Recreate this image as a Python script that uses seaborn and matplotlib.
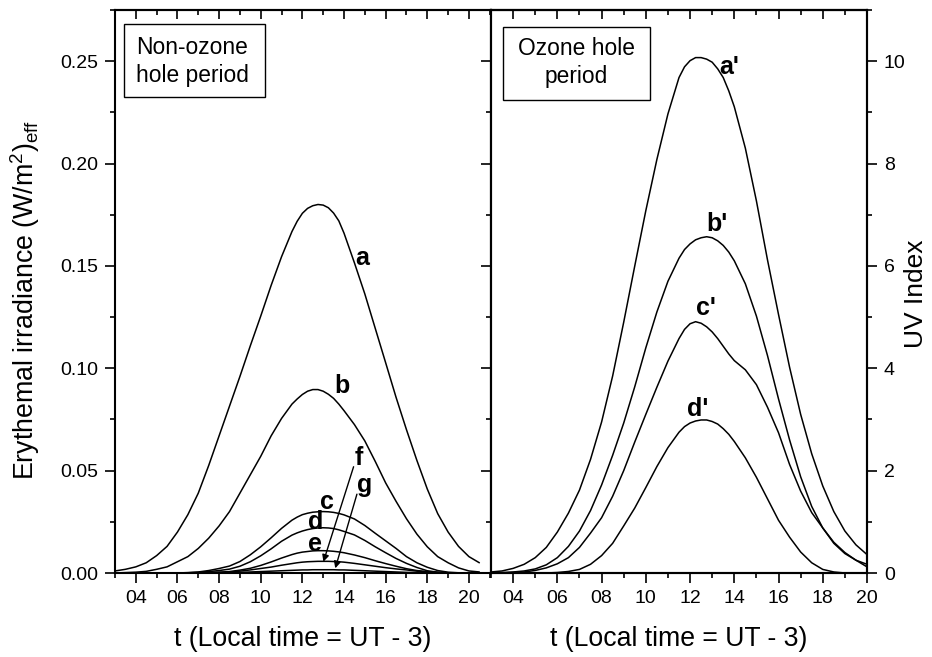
import matplotlib
matplotlib.use("Agg")
import matplotlib.pyplot as plt
import seaborn as sns
from matplotlib.patches import Rectangle
from matplotlib.ticker import MultipleLocator, FixedLocator, FixedFormatter

# ---------------- data ----------------
hours_left = [3.0, 3.5, 4.0, 4.5, 5.0, 5.5, 6.0, 6.5, 7.0, 7.5, 8.0, 8.5,
              9.0, 9.5, 10.0, 10.5, 11.0, 11.5,
              11.75, 12.0, 12.25, 12.5, 12.75, 13.0, 13.25, 13.5, 13.75,
              14.0, 14.5, 15.0, 15.5, 16.0, 16.5, 17.0, 17.5, 18.0, 18.5, 19.0, 19.5, 20.0, 20.5]

curve_a = [0.001, 0.0018, 0.003, 0.005, 0.0085, 0.013, 0.020, 0.0285, 0.039, 0.0525, 0.067, 0.0815,
           0.096, 0.111, 0.1255, 0.1405, 0.1545, 0.1668,
           0.1718, 0.1757, 0.1781, 0.1794, 0.1800, 0.1797, 0.1784, 0.1758, 0.1720,
           0.1660, 0.1515, 0.1363, 0.1195, 0.1027, 0.0858, 0.070, 0.055, 0.041, 0.029, 0.020, 0.013,
           0.008, 0.005]
curve_b = [0.0, 0.0002, 0.0004, 0.0008, 0.0018, 0.003, 0.0055, 0.008, 0.012, 0.017, 0.023, 0.030,
           0.039, 0.048, 0.057, 0.067, 0.0755, 0.0825,
           0.0850, 0.0872, 0.0888, 0.0896, 0.0896, 0.0888, 0.0873, 0.0853, 0.0825,
           0.0793, 0.0725, 0.0645, 0.0545, 0.044, 0.035, 0.0265, 0.019, 0.0128, 0.008, 0.005, 0.0025,
           0.001, 0.0005]
curve_c = [0, 0, 0, 0, 0, 0, 0, 0.0002, 0.0005, 0.0012, 0.0022, 0.0034,
           0.0056, 0.0089, 0.0128, 0.0172, 0.0218, 0.0258,
           0.0273, 0.0285, 0.0292, 0.0297, 0.0299, 0.0300, 0.0299, 0.0296, 0.0291,
           0.0284, 0.0264, 0.0232, 0.0194, 0.0157, 0.0120, 0.0080, 0.0050, 0.0028, 0.0012, 0.0004, 0.0001,
           0, 0]
curve_d = [0, 0, 0, 0, 0, 0, 0, 0.0001, 0.0003, 0.0007, 0.0012, 0.0019,
           0.0033, 0.0055, 0.0084, 0.0118, 0.0155, 0.0185,
           0.0196, 0.0205, 0.0212, 0.0217, 0.0220, 0.0221, 0.0220, 0.0217, 0.0211,
           0.0203, 0.0186, 0.0159, 0.0128, 0.0099, 0.0071, 0.0047, 0.0027, 0.0011, 0.0004, 0.0001, 0,
           0, 0]
curve_e = [0, 0, 0, 0, 0, 0, 0, 0, 0.0001, 0.0002, 0.0004, 0.0007,
           0.0014, 0.0023, 0.0037, 0.0054, 0.0073, 0.0090,
           0.0097, 0.0102, 0.0105, 0.0108, 0.0109, 0.0109, 0.0108, 0.0106, 0.0103,
           0.0099, 0.0088, 0.0075, 0.0060, 0.0046, 0.0033, 0.0021, 0.0012, 0.0007, 0.0003, 0.0001, 0,
           0, 0]
curve_f = [0, 0, 0, 0, 0, 0, 0, 0, 0.0001, 0.0002, 0.0003, 0.0005,
           0.0009, 0.0015, 0.0022, 0.0029, 0.0038, 0.0046,
           0.0050, 0.0053, 0.0055, 0.0056, 0.0057, 0.0057, 0.0057, 0.0056, 0.0055,
           0.0053, 0.0047, 0.0040, 0.0033, 0.0026, 0.0020, 0.0015, 0.0009, 0.0005, 0.0002, 0.0001, 0,
           0, 0]
curve_g = [0, 0, 0, 0, 0, 0, 0, 0, 0, 0, 0.0001, 0.0002,
           0.0003, 0.0005, 0.0007, 0.0009, 0.0011, 0.0013,
           0.0014, 0.0015, 0.0015, 0.0016, 0.0016, 0.0016, 0.0016, 0.0016, 0.0015,
           0.0015, 0.0013, 0.0011, 0.0009, 0.0007, 0.0005, 0.0003, 0.0002, 0.0001, 0, 0, 0,
           0, 0]

hours_right = [3.0, 3.5, 4.0, 4.5, 5.0, 5.5, 6.0, 6.5, 7.0, 7.5, 8.0, 8.5,
               9.0, 9.5, 10.0, 10.5, 11.0, 11.5,
               11.75, 12.0, 12.25, 12.5, 12.75, 13.0, 13.25, 13.5, 13.75,
               14.0, 14.5, 15.0, 15.5, 16.0, 16.5, 17.0, 17.5, 18.0, 18.5, 19.0, 19.5, 20.0]
uv_a = [0.02, 0.04, 0.09, 0.17, 0.30, 0.50, 0.80, 1.17, 1.62, 2.22, 2.95, 3.85,
        4.90, 6.00, 7.08, 8.08, 8.97, 9.68,
        9.89, 10.01, 10.07, 10.07, 10.04, 9.98, 9.85, 9.68, 9.42,
        9.11, 8.30, 7.27, 6.12, 5.05, 4.02, 3.10, 2.33, 1.70, 1.20, 0.82, 0.55, 0.36]
uv_b = [0.0, 0.01, 0.02, 0.04, 0.08, 0.16, 0.30, 0.52, 0.82, 1.22, 1.72, 2.30,
        2.93, 3.64, 4.40, 5.10, 5.70, 6.15,
        6.32, 6.43, 6.51, 6.55, 6.57, 6.55, 6.49, 6.40, 6.27,
        6.10, 5.65, 5.02, 4.25, 3.40, 2.60, 1.88, 1.30, 0.88, 0.58, 0.38, 0.25, 0.17]
uv_c = [0.0, 0.0, 0.01, 0.02, 0.05, 0.10, 0.18, 0.30, 0.50, 0.78, 1.08, 1.50,
        2.00, 2.56, 3.10, 3.63, 4.14, 4.58,
        4.76, 4.87, 4.91, 4.88, 4.81, 4.71, 4.58, 4.43, 4.28,
        4.15, 3.97, 3.68, 3.24, 2.74, 2.12, 1.60, 1.18, 0.88, 0.60, 0.40, 0.25, 0.12]
uv_d = [0, 0, 0, 0, 0, 0, 0.01, 0.03, 0.07, 0.17, 0.34, 0.58,
        0.92, 1.27, 1.67, 2.08, 2.45, 2.75,
        2.86, 2.93, 2.97, 2.99, 2.99, 2.96, 2.91, 2.82, 2.71,
        2.57, 2.25, 1.87, 1.45, 1.03, 0.70, 0.41, 0.20, 0.07, 0.02, 0, 0, 0]

left_series = [curve_a, curve_b, curve_c, curve_d, curve_e, curve_f, curve_g]
right_series = [uv_a, uv_b, uv_c, uv_d]

x_tick_values = [4, 6, 8, 10, 12, 14, 16, 18, 20]
x_tick_labels = ["04", "06", "08", "10", "12", "14", "16", "18", "20"]
y_tick_values = [0.00, 0.05, 0.10, 0.15, 0.20, 0.25]
y_tick_labels = ["0.00", "0.05", "0.10", "0.15", "0.20", "0.25"]
uv_tick_values = [0, 2, 4, 6, 8, 10]
uv_tick_labels = ["0", "2", "4", "6", "8", "10"]

left_labels = ["a", "b", "c", "d", "e", "f", "g"]
left_label_pos = [(14.88, 0.1504), (13.9, 0.0877), (13.17, 0.0311), (12.66, 0.0213),
                  (12.6, 0.0109), (14.7, 0.0527), (15.0, 0.0395)]
right_labels = ["a'", "b'", "c'", "d'"]
right_label_pos = [(13.76, 9.75), (13.21, 6.69), (12.71, 5.04), (12.34, 3.07)]
arrows = [((14.46, 0.0519), (13.01, 0.0055)), ((14.62, 0.0385), (13.58, 0.0023))]

xlabel = "t (Local time = UT - 3)"
ylabel = "Erythemal irradiance (W/m$^\\mathregular{2}$)$_\\mathregular{eff}$"
uvlabel = "UV Index"

# ---------------- style ----------------
sns.set_style("ticks")
plt.rcParams["font.family"] = ["Liberation Sans", "DejaVu Sans"]
plt.rcParams["mathtext.fontset"] = "custom"
plt.rcParams["mathtext.rm"] = "Liberation Sans"
plt.rcParams["axes.linewidth"] = 1.5
for key in ("text.color", "axes.labelcolor", "xtick.color", "ytick.color", "axes.edgecolor"):
    plt.rcParams[key] = "black"

W, H = 932, 657
fig = plt.figure(figsize=(W / 100, H / 100), dpi=100)
bottom = (H - 573) / H
height = 563 / H
ax1 = fig.add_axes([115 / W, bottom, 376 / W, height])
ax2 = fig.add_axes([491 / W, bottom, 376 / W, height])
ax3 = ax2.twinx()

LW = 1.1
for ys in left_series:
    sns.lineplot(x=hours_left, y=ys, ax=ax1, color="black", linewidth=LW, legend=False)
for ys in right_series:
    sns.lineplot(x=hours_right, y=ys, ax=ax3, color="black", linewidth=LW, legend=False)

ax1.set_xlim(3, 21.06)
ax2.set_xlim(3, 20)
ax1.set_ylim(0, 0.275)
ax2.set_ylim(0, 0.275)
ax3.set_ylim(0, 11.0)

for ax in (ax1, ax2):
    ax.xaxis.set_major_locator(FixedLocator(x_tick_values))
    ax.xaxis.set_major_formatter(FixedFormatter(x_tick_labels))
    ax.xaxis.set_minor_locator(MultipleLocator(1))
    ax.tick_params(axis="x", which="major", direction="out", length=7.2, width=1.2,
                   labelsize=14, pad=5, top=False)
    ax.tick_params(axis="x", which="minor", direction="out", length=3.6, width=1.2, top=False)
    sec = ax.secondary_xaxis("top")
    sec.xaxis.set_major_locator(FixedLocator(x_tick_values))
    sec.xaxis.set_minor_locator(MultipleLocator(1))
    sec.tick_params(axis="x", which="major", direction="in", length=6.5, width=1.2, labeltop=False)
    sec.tick_params(axis="x", which="minor", direction="in", length=3.6, width=1.2)
    sec.spines["top"].set_linewidth(1.5)
    ax.set_xlabel("")
    ax.set_ylabel("")
    for s in ax.spines.values():
        s.set_visible(True)
        s.set_linewidth(1.5)

ax1.yaxis.set_major_locator(FixedLocator(y_tick_values))
ax1.yaxis.set_major_formatter(FixedFormatter(y_tick_labels))
ax1.yaxis.set_minor_locator(MultipleLocator(0.025))
ax1.tick_params(axis="y", which="major", direction="out", length=7.2, width=1.2, labelsize=14,
                pad=5, right=False)
ax1.tick_params(axis="y", which="minor", direction="out", length=3.6, width=1.2, right=False)

ax2.yaxis.set_major_locator(FixedLocator(y_tick_values))
ax2.yaxis.set_minor_locator(MultipleLocator(0.025))
ax2.tick_params(axis="y", which="major", direction="out", length=7.2, width=1.2, labelleft=False)
ax2.tick_params(axis="y", which="minor", direction="out", length=3.6, width=1.2)

ax3.yaxis.set_major_locator(FixedLocator(uv_tick_values))
ax3.yaxis.set_major_formatter(FixedFormatter(uv_tick_labels))
ax3.yaxis.set_minor_locator(MultipleLocator(1))
ax3.tick_params(axis="y", which="major", direction="out", length=7.2, width=1.2, labelsize=14, pad=5)
ax3.tick_params(axis="y", which="minor", direction="out", length=3.6, width=1.2)
ax3.set_ylabel("")
for s in ax3.spines.values():
    s.set_linewidth(1.5)

# axis titles
ax1.text(0.5, -0.094, xlabel, transform=ax1.transAxes, ha="center", va="top", fontsize=19.2)
ax2.text(0.5, -0.094, xlabel, transform=ax2.transAxes, ha="center", va="top", fontsize=19.2)
fig.text(25 / W, 1 - 300 / H, ylabel, rotation=90, ha="center", va="center", fontsize=19.3)
fig.text(916 / W, 1 - 294 / H, uvlabel, rotation=90, ha="center", va="center", fontsize=19)

# boxes
ax1.add_patch(Rectangle((0.024, 0.845), 0.375, 0.130, transform=ax1.transAxes,
                        fill=False, lw=1.0, ec="black"))
ax1.text(0.056, 0.922, "Non-ozone", transform=ax1.transAxes, ha="left", va="baseline", fontsize=16.4)
ax1.text(0.056, 0.872, "hole period", transform=ax1.transAxes, ha="left", va="baseline", fontsize=16.4)
ax2.add_patch(Rectangle((0.031, 0.840), 0.392, 0.129, transform=ax2.transAxes,
                        fill=False, lw=1.0, ec="black"))
ax2.text(0.227, 0.920, "Ozone hole", transform=ax2.transAxes, ha="center", va="baseline", fontsize=16.4)
ax2.text(0.227, 0.871, "period", transform=ax2.transAxes, ha="center", va="baseline", fontsize=16.4)

# curve letters
for lab, (x, y) in zip(left_labels, left_label_pos):
    ax1.text(x, y, lab, ha="center", va="baseline", fontsize=18, fontweight="bold")
for lab, (x, y) in zip(right_labels, right_label_pos):
    ax3.text(x, y, lab, ha="center", va="baseline", fontsize=18, fontweight="bold")

for start, end in arrows:
    ax1.annotate("", xy=end, xytext=start,
                 arrowprops=dict(arrowstyle="-|>", color="black", lw=1.0,
                                 mutation_scale=10, shrinkA=0, shrinkB=0))

fig.savefig("out.png", dpi=100)
